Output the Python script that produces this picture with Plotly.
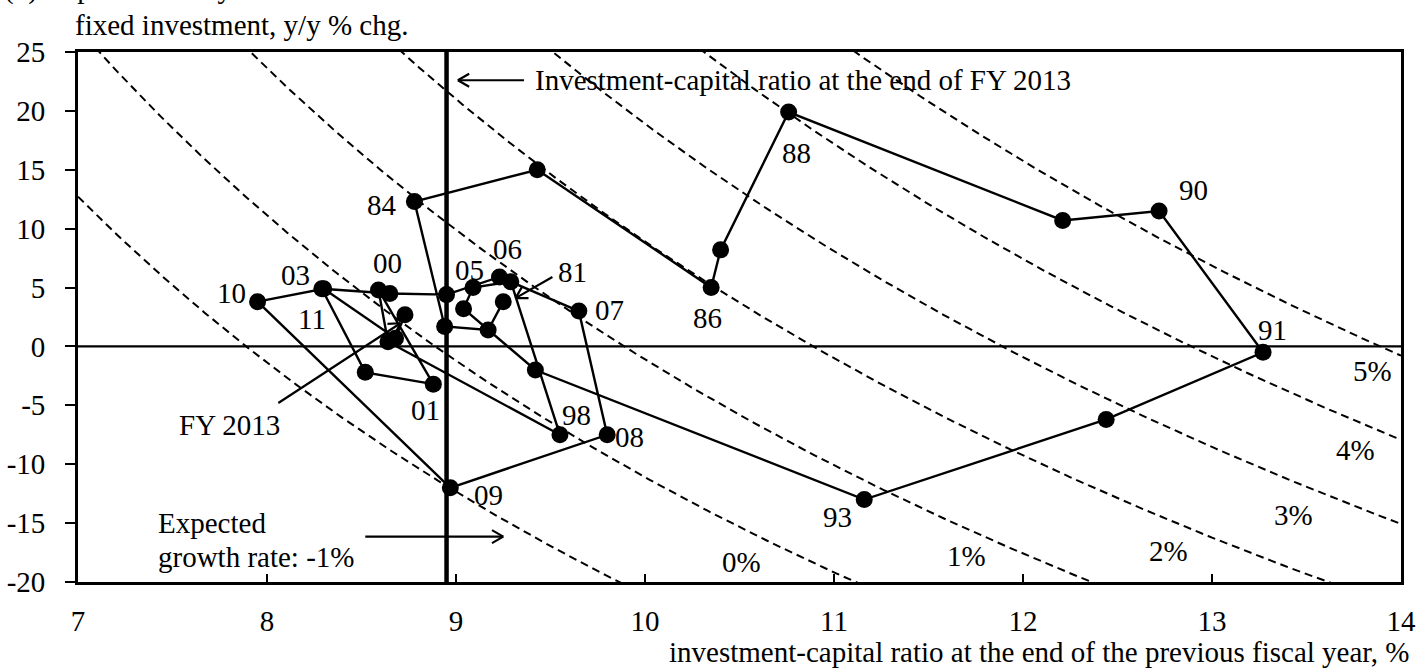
import math
import numpy as np
import plotly.graph_objects as go

# Fiscal years 1981-2013 (two-digit labels)
fiscal_year = ["81", "82", "83", "84", "85", "86", "87", "88", "89", "90",
               "91", "92", "93", "94", "95", "96", "97", "98", "99", "00",
               "01", "02", "03", "04", "05", "06", "07", "08", "09", "10",
               "11", "12", "13"]
# investment-capital ratio at the end of the previous fiscal year, %
ik_ratio = [9.25, 9.17, 8.94, 8.78, 9.43, 10.35, 10.40, 10.76, 12.21, 12.72,
            13.27, 12.44, 11.16, 9.42, 9.04, 9.09, 9.29, 9.55, 8.64, 8.59,
            8.88, 8.52, 8.29, 8.65, 8.95, 9.23, 9.65, 9.80, 8.97, 7.95,
            8.30, 8.68, 8.73]
# fixed investment, y/y % chg.
invest_growth = [3.8, 1.4, 1.7, 12.3, 15.0, 5.0, 8.2, 19.9, 10.7, 11.5,
                 -0.5, -6.2, -13.0, -2.0, 3.2, 5.0, 5.5, -7.5, 0.4, 4.8,
                 -3.2, -2.2, 4.9, 4.5, 4.4, 5.9, 3.0, -7.5, -12.0, 3.8,
                 4.9, 0.7, 2.7]

# Expected growth rates for the iso-lines and the depreciation rate, %
growth_rates = [-1, 0, 1, 2, 3, 4, 5]
depreciation = 8.89
ik_ratio_end_fy2013 = 8.95

# Axis ticks
x_ticks = [7, 8, 9, 10, 11, 12, 13, 14]
y_ticks = [25, 20, 15, 10, 5, 0, -5, -10, -15, -20]
y_tick_text = ["25", "20", "15", "10", "5", "0", "-5", "-10", "-15", "-20"]

# Year labels and where they sit
label_text = ["84", "86", "88", "90", "91", "93", "98", "00", "01", "03",
              "05", "06", "07", "08", "09", "10", "11"]
label_x = [8.61, 10.33, 10.80, 12.90, 13.32, 11.02, 9.64, 8.635, 8.84, 8.15,
           9.07, 9.27, 9.81, 9.92, 9.17, 7.81, 8.24]
label_y = [12.0, 2.4, 16.4, 13.3, 1.4, -14.5, -5.8, 7.1, -5.4, 6.1,
           6.5, 8.3, 3.1, -7.7, -12.6, 4.5, 2.3]

# Rate labels on the iso-lines
rate_text = ["0%", "1%", "2%", "3%", "4%", "5%"]
rate_x = [10.51, 11.70, 12.77, 13.43, 13.76, 13.85]
rate_y = [-18.3, -17.8, -17.4, -14.3, -8.8, -2.1]

X_RANGE = [7, 14]
Y_RANGE = [-20, 25]
W, H = 1418, 672
M = dict(l=78, r=17, t=52, b=90)
PW = W - M["l"] - M["r"]
PH = H - M["t"] - M["b"]
PX = PW / (X_RANGE[1] - X_RANGE[0])
PY = PH / (Y_RANGE[1] - Y_RANGE[0])

FONT = "Liberation Serif, Times New Roman, serif"
FS = 29

fig = go.Figure()

# Iso-lines of the expected growth rate
xs = np.linspace(X_RANGE[0], X_RANGE[1], 400)
for g in growth_rates:
    ys = 100.0 * ((g + depreciation) / xs - 1.0)
    fig.add_trace(go.Scatter(x=xs, y=ys, mode="lines",
                             line=dict(color="black", width=2, dash="8px,5px"),
                             hoverinfo="skip", showlegend=False))

# Path of fiscal years
fig.add_trace(go.Scatter(x=ik_ratio, y=invest_growth, mode="lines+markers",
                         line=dict(color="black", width=2.4),
                         marker=dict(color="black", size=17),
                         text=fiscal_year, showlegend=False))

shapes = [
    dict(type="line", xref="x", yref="y", x0=X_RANGE[0], x1=X_RANGE[1], y0=0, y1=0,
         line=dict(color="black", width=2.2)),
    dict(type="line", xref="x", yref="paper", x0=ik_ratio_end_fy2013,
         x1=ik_ratio_end_fy2013, y0=0, y1=1, line=dict(color="black", width=4.5)),
]


def arrow(x0, y0, x1, y1, head=13, ang=30):
    shapes.append(dict(type="line", xref="x", yref="y", x0=x0, y0=y0, x1=x1, y1=y1,
                       line=dict(color="black", width=2.2)))
    dx = (x1 - x0) * PX
    dy = -(y1 - y0) * PY
    n = math.hypot(dx, dy)
    ux, uy = dx / n, dy / n
    for s in (1, -1):
        a = math.radians(ang) * s
        bx = -(ux * math.cos(a) - uy * math.sin(a)) * head
        by = -(ux * math.sin(a) + uy * math.cos(a)) * head
        shapes.append(dict(type="line", xref="x", yref="y", x0=x1, y0=y1,
                           x1=x1 + bx / PX, y1=y1 - by / PY,
                           line=dict(color="black", width=2.2)))


arrow(9.36, 22.6, 9.01, 22.6)
arrow(9.51, 5.9, 9.315, 4.1)
arrow(8.06, -4.8, 8.706, 1.97)
arrow(8.52, -16.15, 9.25, -16.15)

annotations = []


def text(t, x, y, xanchor="center", xref="x", yref="y", yanchor="middle"):
    annotations.append(dict(text=t, x=x, y=y, xref=xref, yref=yref, showarrow=False,
                            xanchor=xanchor, yanchor=yanchor,
                            font=dict(family=FONT, size=FS, color="black")))


for t, x, y in zip(label_text, label_x, label_y):
    text(t, x, y)
for t, x, y in zip(rate_text, rate_x, rate_y):
    text(t, x, y)
text("81", 9.615, 6.3)
text("FY 2013", 7.80, -6.66)
text("Expected", 7.415, -15.0, xanchor="left")
text("growth rate: -1%", 7.415, -17.85, xanchor="left")
text("Investment-capital ratio at the end of FY 2013", 9.405, 22.6, xanchor="left")

# Axis titles
text("fixed investment, y/y % chg.", -5 / PW, (M["t"] + PH - 25) / PH,
     xanchor="left", xref="paper", yref="paper")
text("investment-capital ratio at the end of the previous fiscal year, %",
     1 + 10 / PW, -(652 - M["t"] - PH) / PH, xanchor="right",
     xref="paper", yref="paper")
# Panel heading
text("(1) Capital stock cycle", -76 / PW, (M["t"] + PH - 7) / PH,
     xanchor="left", xref="paper", yref="paper", yanchor="bottom")

fig.update_layout(
    width=W, height=H, margin=M,
    paper_bgcolor="white", plot_bgcolor="white",
    font=dict(family=FONT, size=FS, color="black"),
    shapes=shapes, annotations=annotations,
    xaxis=dict(range=X_RANGE, tickvals=x_ticks, ticks="inside", ticklen=8,
               tickwidth=2, tickcolor="black", showline=True, linewidth=2.8,
               linecolor="black", mirror=True, showgrid=False, zeroline=False,
               ticklabelstandoff=11, automargin=False),
    yaxis=dict(range=Y_RANGE, tickvals=y_ticks, ticktext=y_tick_text, ticks="outside",
               ticklen=10, tickwidth=2, tickcolor="black", showline=True, linewidth=2.8,
               linecolor="black", mirror=True, showgrid=False, zeroline=False,
               ticklabelstandoff=14, automargin=False),
)

fig.write_html("out.html")
